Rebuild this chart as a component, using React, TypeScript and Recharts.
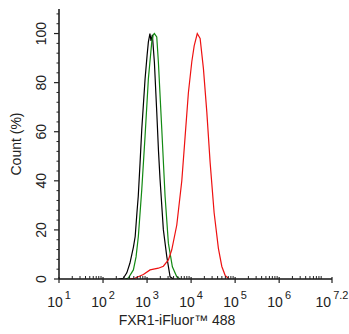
import { LineChart, Line, XAxis, YAxis } from 'recharts';

// ─── Histogram data (x = log10 of fluorescence, y = count %) ────────────────
const blackSeries = [
  { x: 2.35, y: 0 },
  { x: 2.46, y: 0.3 },
  { x: 2.54, y: 2.5 },
  { x: 2.61, y: 6.4 },
  { x: 2.69, y: 13 },
  { x: 2.73, y: 17.3 },
  { x: 2.77, y: 27 },
  { x: 2.8, y: 33.7 },
  { x: 2.84, y: 47 },
  { x: 2.88, y: 61.1 },
  { x: 2.92, y: 72 },
  { x: 2.955, y: 81.6 },
  { x: 3.0, y: 91 },
  { x: 3.03, y: 96.6 },
  { x: 3.065, y: 100 },
  { x: 3.09, y: 97 },
  { x: 3.12, y: 99.5 },
  { x: 3.166, y: 88.4 },
  { x: 3.22, y: 68 },
  { x: 3.26, y: 52 },
  { x: 3.295, y: 40.6 },
  { x: 3.37, y: 20.1 },
  { x: 3.448, y: 9.1 },
  { x: 3.523, y: 0.9 },
  { x: 3.6, y: 0 },
];

const greenSeries = [
  { x: 2.5, y: 0 },
  { x: 2.575, y: 0.4 },
  { x: 2.689, y: 3.7 },
  { x: 2.75, y: 9 },
  { x: 2.802, y: 17.3 },
  { x: 2.88, y: 36.5 },
  { x: 2.955, y: 58.3 },
  { x: 3.03, y: 81.6 },
  { x: 3.107, y: 96.6 },
  { x: 3.14, y: 99.5 },
  { x: 3.166, y: 100 },
  { x: 3.22, y: 98.6 },
  { x: 3.257, y: 88.4 },
  { x: 3.334, y: 61.1 },
  { x: 3.409, y: 33.7 },
  { x: 3.484, y: 14.6 },
  { x: 3.575, y: 5 },
  { x: 3.675, y: 0.9 },
  { x: 3.75, y: 0 },
];

const redSeries = [
  { x: 2.6, y: 0 },
  { x: 2.72, y: 0.3 },
  { x: 2.916, y: 1.8 },
  { x: 3.068, y: 3.7 },
  { x: 3.257, y: 4.4 },
  { x: 3.37, y: 5.2 },
  { x: 3.484, y: 7.8 },
  { x: 3.561, y: 11.9 },
  { x: 3.675, y: 22 },
  { x: 3.789, y: 40 },
  { x: 3.864, y: 58 },
  { x: 3.939, y: 76 },
  { x: 4.016, y: 88.5 },
  { x: 4.07, y: 95 },
  { x: 4.14, y: 100 },
  { x: 4.205, y: 98 },
  { x: 4.28, y: 85.7 },
  { x: 4.357, y: 68 },
  { x: 4.432, y: 47.5 },
  { x: 4.523, y: 27 },
  { x: 4.62, y: 12.5 },
  { x: 4.698, y: 5.1 },
  { x: 4.773, y: 1.5 },
  { x: 4.86, y: 0 },
];

// ─── Axis ticks ─────────────────────────────────────────────────────────────
const xMajorTicks = [1, 2, 3, 4, 5, 6, 7.2];
const xMinorTicks: number[] = [];
for (let d = 1; d < 7; d++) {
  for (let k = 2; k <= 9; k++) xMinorTicks.push(d + Math.log10(k));
}
const xTicks = [...xMajorTicks, ...xMinorTicks].sort((a, b) => a - b);

const yMajorTicks = [0, 20, 40, 60, 80, 100];
const yTicks: number[] = [];
for (let v = 0; v <= 108; v += 4) yTicks.push(v);

const FONT = '"Liberation Sans", Arial, sans-serif';

const XTick = ({ x, y, payload }: any) => {
  const v = payload.value;
  const major = xMajorTicks.includes(v);
  if (!major) {
    return <line x1={x} x2={x} y1={y} y2={y - 3} stroke="#222" strokeWidth={1} />;
  }
  const exp = Number.isInteger(v) ? String(v) : v.toFixed(1);
  return (
    <g>
      <line x1={x} x2={x} y1={y - 2} y2={y + 4} stroke="#222" strokeWidth={1.2} />
      <text x={x} y={y + 28} textAnchor="middle" fontFamily={FONT} fill="#222">
        <tspan fontSize={14}>10</tspan>
        <tspan fontSize={11} dx={2} dy={-8}>{exp}</tspan>
      </text>
    </g>
  );
};

const YTick = ({ x, y, payload }: any) => {
  const v = payload.value;
  const major = yMajorTicks.includes(v);
  if (!major) {
    return <line x1={x - 2.5} x2={x} y1={y} y2={y} stroke="#222" strokeWidth={1} />;
  }
  return (
    <g>
      <line x1={x - 5} x2={x} y1={y} y2={y} stroke="#222" strokeWidth={1.2} />
      <text
        x={x - 18}
        y={y}
        textAnchor="middle"
        dominantBaseline="central"
        transform={`rotate(-90, ${x - 18}, ${y})`}
        fontFamily={FONT}
        fontSize={14}
        fill="#222"
      >
        {v}
      </text>
    </g>
  );
};

export default function App() {
  return (
    <div style={{ position: 'absolute', left: 0, top: 0, background: '#fff' }}>
      <LineChart width={349} height={334} margin={{ top: 9, right: 17, left: 0, bottom: 0 }}>
        <XAxis
          xAxisId="bottom"
          type="number"
          dataKey="x"
          domain={[1, 7.2]}
          ticks={xTicks}
          interval={0}
          tick={<XTick />}
          tickSize={0}
          tickMargin={0}
          tickLine={false}
          height={55}
          axisLine={{ stroke: '#111', strokeWidth: 1.5 }}
          allowDataOverflow
        />
        <XAxis
          xAxisId="top"
          orientation="top"
          type="number"
          dataKey="x"
          domain={[1, 7.2]}
          tick={false}
          tickLine={false}
          height={0}
          axisLine={{ stroke: '#333', strokeWidth: 1.5 }}
        />
        <YAxis
          yAxisId="left"
          type="number"
          domain={[0, 110]}
          ticks={yTicks}
          interval={0}
          tick={<YTick />}
          tickSize={0}
          tickMargin={0}
          tickLine={false}
          width={59}
          axisLine={{ stroke: '#111', strokeWidth: 1.5 }}
          allowDataOverflow
        />
        <YAxis
          yAxisId="right"
          orientation="right"
          type="number"
          domain={[0, 110]}
          tick={false}
          tickLine={false}
          width={0}
          axisLine={{ stroke: '#555', strokeWidth: 1.5 }}
        />
        <Line xAxisId="bottom" yAxisId="left" data={blackSeries} dataKey="y" type="linear" stroke="#000" strokeWidth={1.2} dot={false} isAnimationActive={false} />
        <Line xAxisId="bottom" yAxisId="left" data={greenSeries} dataKey="y" type="linear" stroke="#138a13" strokeWidth={1.2} dot={false} isAnimationActive={false} />
        <Line xAxisId="bottom" yAxisId="left" data={redSeries} dataKey="y" type="linear" stroke="#ee1111" strokeWidth={1.2} dot={false} isAnimationActive={false} />
        <text x={16} y={144} textAnchor="middle" dominantBaseline="central" transform="rotate(-90, 16, 144)" fontFamily={FONT} fontSize={14} fill="#222">
          Count  (%)
        </text>
        <text x={177} y={325} textAnchor="middle" fontFamily={FONT} fontSize={14} fill="#222">
          FXR1-iFluor™ 488
        </text>
      </LineChart>
    </div>
  );
}
